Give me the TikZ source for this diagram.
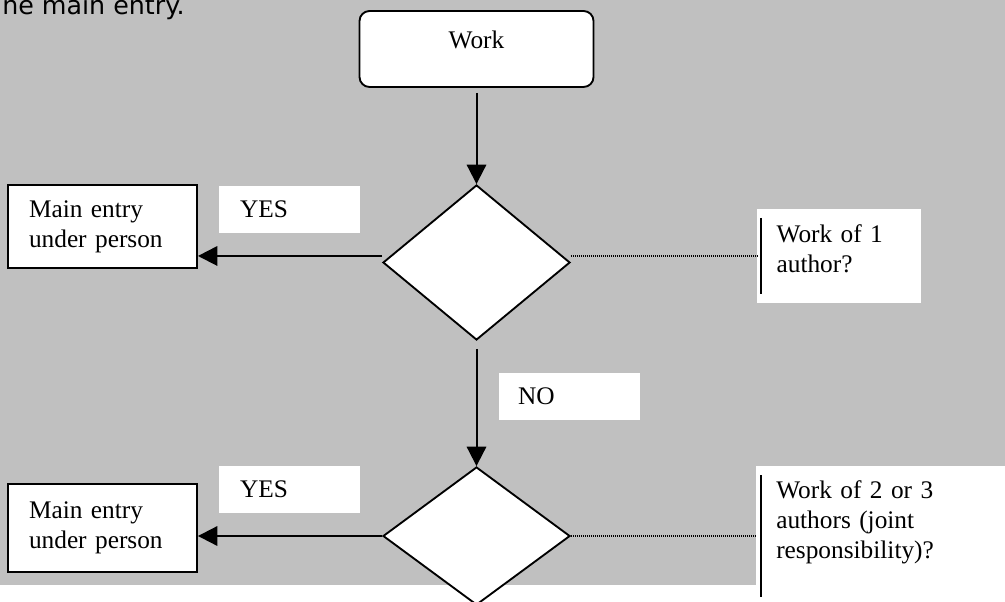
\documentclass[tikz,border=0pt]{standalone}
\usepackage{fontspec}
\setmainfont{Liberation Serif}
\newfontfamily\notefont{DejaVu Sans}
\definecolor{flow_bg}{RGB}{192, 192, 192}
\usetikzlibrary{arrows.meta, positioning, shapes.geometric, calc}
\tikzset{
  flowtext/.style={font=\fontsize{19}{22.5}\selectfont},
  startbox/.style={flowtext, draw, fill=white, line width=1.4pt, rounded corners=7.5pt,
    minimum width=175.5pt, minimum height=57pt, text depth=13.5pt},
  decision/.style={diamond, draw, fill=white, line width=1.4pt, inner sep=0pt,
    minimum width=140.25pt},
  mainbox/.style={flowtext, draw, fill=white, line width=1.4pt, inner ysep=0pt,
    inner xsep=15.75pt, text width=110.25pt, align=left},
  answer/.style={flowtext, fill=white, minimum height=35.25pt, align=left},
  question/.style={flowtext, fill=white, anchor=north west, inner ysep=0pt,
    inner xsep=14.5pt, align=left},
  qbar/.style={line width=2pt},
  flowarrow/.style={line width=1.5pt, -{Triangle[length=14.5pt, width=14.5pt]}},
  guide/.style={line width=0.8pt, dash pattern=on 0.75pt off 0.75pt}
}

\begin{document}
\begin{tikzpicture}[x=0.75pt, y=-0.75pt]
    \useasboundingbox (0,0) rectangle (1005,602);
    \fill[flow_bg] (0,0) rectangle (1005,585);

    \node[font=\notefont\fontsize{19}{22}\selectfont, anchor=base east, inner xsep=0pt] (note) at (185,15) {ne main entry.};

    % start
    \node[startbox] (work) at (476.5,49) {Work};

    % first question
    \node[decision, minimum height=116.25pt] (d1) at (476.5,262.5) {};
    \node[mainbox, text height=24.75pt, text depth=37.5pt] (m1) at (102.5,226.5) {Main entry\\under person};
    \node[answer, inner xsep=15.75pt, text width=74.25pt] (yes1) at (289.5,209.5) {YES};
    \node[question, text width=94pt, text height=24.75pt, text depth=45.75pt] (q1) at (757,209) {Work of 1\\author?};
    \draw[qbar] ([xshift=3pt, yshift=-6.75pt]q1.north west) -- ([xshift=3pt, yshift=7.5pt]q1.south west);

    \node[answer, inner xsep=14.25pt, text width=77.25pt] (no) at (569.5,396.5) {NO};

    % second question
    \node[decision, minimum height=103.5pt] (d2) at (476.5,536) {};
    \node[mainbox, text height=25.5pt, text depth=40.5pt] (m2) at (102.5,528) {Main entry\\under person};
    \node[answer, inner xsep=15.75pt, text width=74.25pt] (yes2) at (289.5,489.5) {YES};
    \node[question, inner xsep=15pt, text width=156.75pt, text height=24pt, text depth=78pt] (q2) at (756,466) {Work of 2 or 3\\authors (joint\\responsibility)?};
    \draw[qbar] ([xshift=3.75pt, yshift=-6.75pt]q2.north west) -- ([xshift=3.75pt, yshift=4.5pt]q2.south west);

    % connectors
    \draw[flowarrow, shorten <=3.75pt] (work) -- (d1);
    \draw[flowarrow, shorten <=6pt] (d1.south) -- (d2.north);
    \draw[flowarrow] ([yshift=4.9pt]d1.west) -- ([yshift=4.9pt]d1.west -| m1.east);
    \draw[guide] ([yshift=4.9pt]d1.east) -- ([yshift=4.9pt]d1.east -| q1.west);
    \draw[flowarrow] (d2.west) -- (d2.west -| m2.east);
    \draw[guide] (d2.east) -- (d2.east -| q2.west);
\end{tikzpicture}
\end{document}
